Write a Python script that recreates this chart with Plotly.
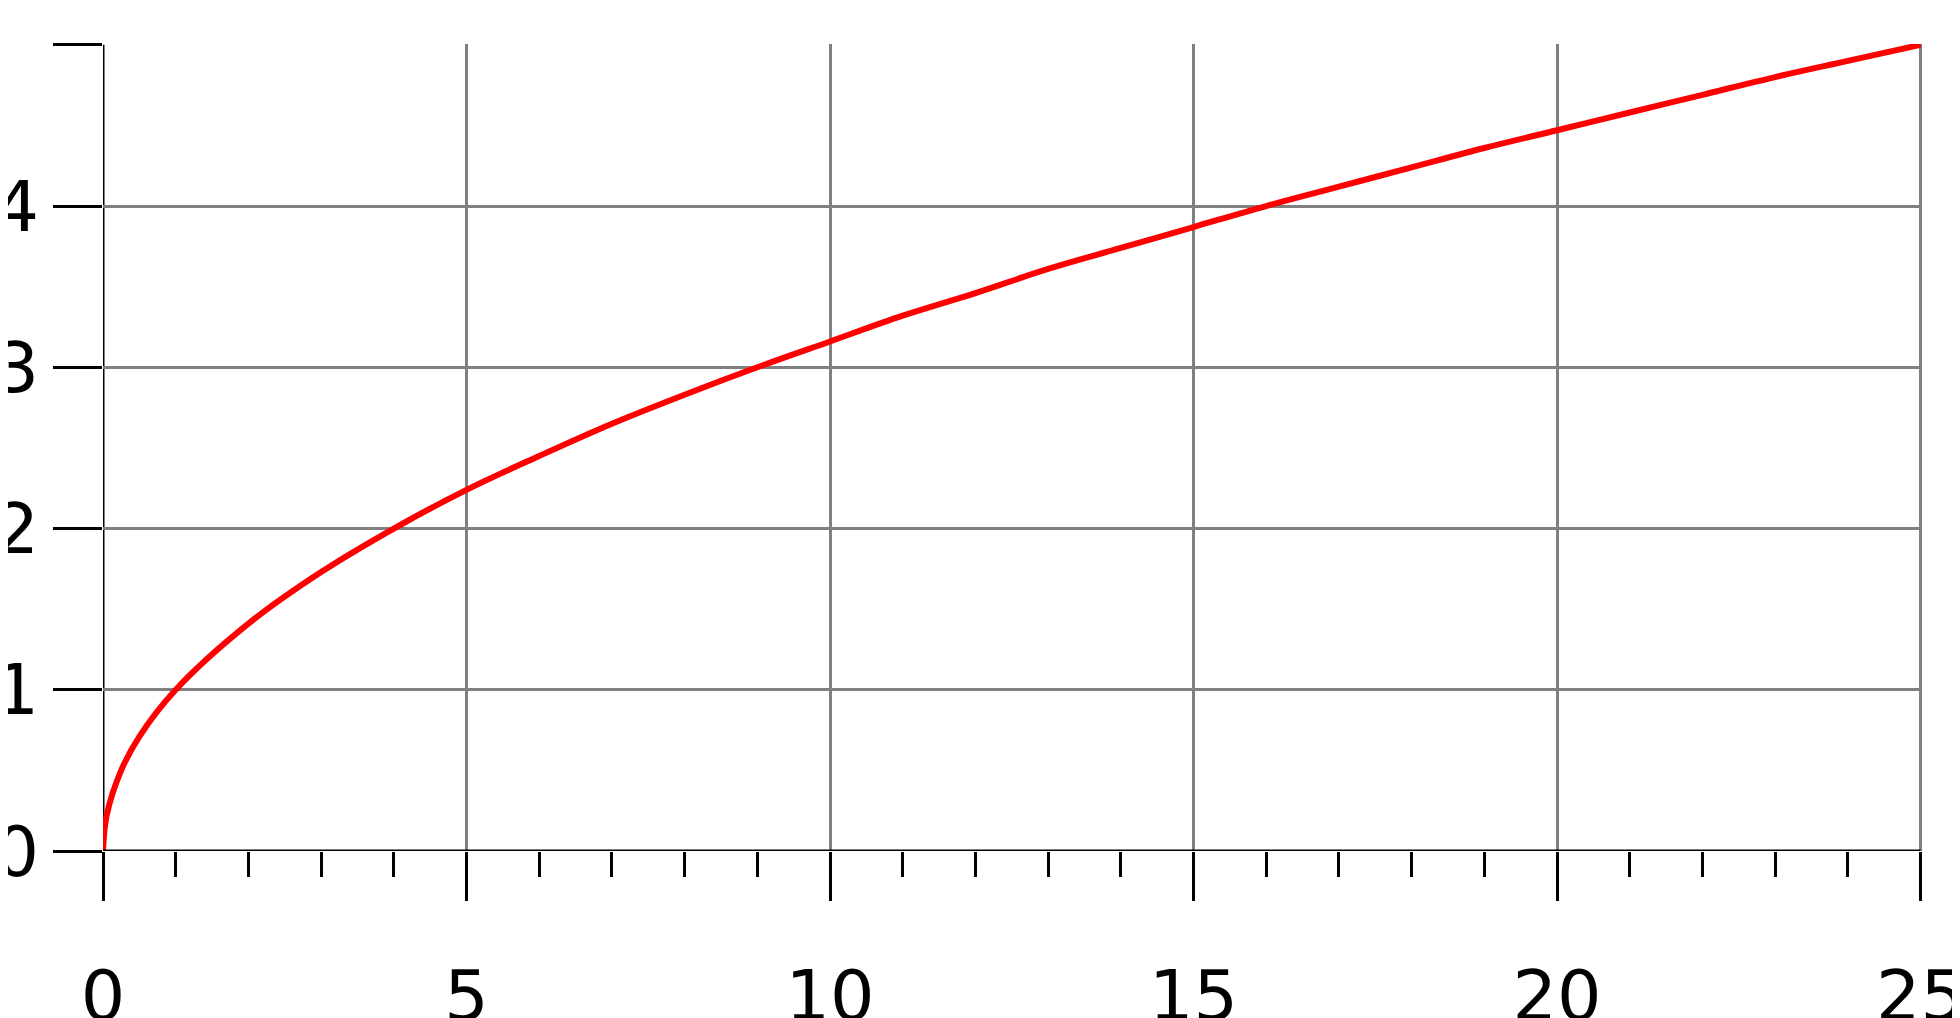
import plotly.graph_objects as go

x_vals = [0, 0.05, 0.25, 0.5, 1, 2, 3, 4, 5, 6, 7, 8, 9, 10, 11, 12, 13, 14, 15,
          16, 17, 18, 19, 20, 21, 22, 23, 24, 25]
y_vals = [0, 0.22, 0.5, 0.71, 1, 1.41, 1.73, 2, 2.24, 2.45, 2.65, 2.83, 3, 3.16,
          3.32, 3.46, 3.61, 3.74, 3.87, 4, 4.12, 4.24, 4.36, 4.47, 4.58, 4.69,
          4.8, 4.9, 5]

fig = go.Figure(go.Scatter(x=x_vals, y=y_vals, mode="lines",
                           line=dict(color="red", width=6, shape="spline")))

fig.update_layout(
    width=1960, height=1018, plot_bgcolor="white", paper_bgcolor="white",
    margin=dict(l=95, r=46, t=36, b=175, autoexpand=False), showlegend=False,
    font=dict(family="DejaVu Sans", size=70, color="black"),
)
fig.update_xaxes(range=[0, 25.02], tickvals=[0, 5, 10, 15, 20, 25],
                 showgrid=True, gridcolor="gray", gridwidth=3,
                 ticks="outside", ticklen=49, tickwidth=3, tickcolor="black",
                 ticklabelstandoff=35,
                 minor=dict(dtick=1, ticks="outside", ticklen=25, tickwidth=3,
                            tickcolor="black", showgrid=False),
                 zeroline=False, showline=False)
fig.update_yaxes(range=[0, 5.005], tickvals=[0, 1, 2, 3, 4, 5],
                 showgrid=True, gridcolor="gray", gridwidth=3,
                 ticks="outside", ticklen=49, tickwidth=3, tickcolor="black",
                 ticklabelstandoff=0, zeroline=False, showline=False)
# black axis lines at x=0 and y=0
fig.add_shape(type="line", xref="x", yref="y", x0=0, x1=25, y0=0, y1=0,
              line=dict(color="black", width=3), layer="above")
fig.add_shape(type="line", xref="x", yref="y", x0=0, x1=0, y0=0, y1=5,
              line=dict(color="black", width=3), layer="below")

fig.write_html("out.html")
